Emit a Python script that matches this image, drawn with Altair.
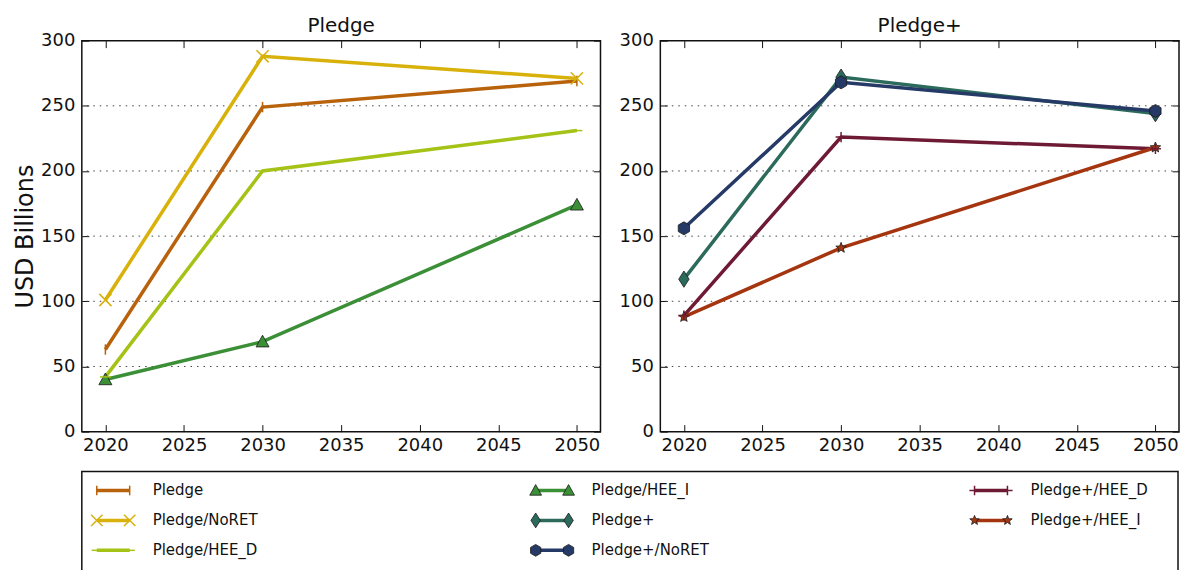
import math
import altair as alt
import pandas as pd

# ---------------- data ----------------
years = [2020, 2030, 2050]
series_names = [
    "Pledge", "Pledge/NoRET", "Pledge/HEE_D", "Pledge/HEE_I",
    "Pledge+", "Pledge+/NoRET", "Pledge+/HEE_D", "Pledge+/HEE_I",
]
series_panel = ["Pledge"] * 4 + ["Pledge+"] * 4
pledge = [63, 249, 269]
pledge_noret = [101, 288, 271]
pledge_hee_d = [42, 200, 231]
pledge_hee_i = [40, 69, 174]
pledgep = [117, 272, 244]
pledgep_noret = [156, 268, 246]
pledgep_hee_d = [89, 226, 217]
pledgep_hee_i = [88, 141, 218]
series_values = [pledge, pledge_noret, pledge_hee_d, pledge_hee_i,
                 pledgep, pledgep_noret, pledgep_hee_d, pledgep_hee_i]
x_ticks = [2020, 2025, 2030, 2035, 2040, 2045, 2050]
y_ticks = [0, 50, 100, 150, 200, 250, 300]
grid_values = [50, 100, 150, 200, 250]

# ---------------- styles ----------------
series_colors = ["#b8620c", "#d8b10a", "#a5c217", "#3b8f36",
                 "#2c6a5c", "#253a66", "#6e1a35", "#a5350f"]


def star_path(outer=0.85, inner=0.36):
    pts = []
    for k in range(10):
        ang = -math.pi / 2 + k * math.pi / 5
        r = outer if k % 2 == 0 else inner
        pts.append(f"{r * math.cos(ang):.3f},{r * math.sin(ang):.3f}")
    return "M" + "L".join(pts) + "Z"


VBAR = "M0,-0.85L0,0.85"
XMARK = "M-1,-1L1,1M-1,1L1,-1"
HBAR = "M-0.9,0L0.9,0"
PLUS = "M-0.9,0L0.9,0M0,-0.85L0,0.85"
TRI = "M0,-1L1,0.8L-1,0.8Z"
DIAM = "M0,-1.25L0.8,0L0,1.25L-0.8,0Z"
HEX = "M0,-1L0.866,-0.5L0.866,0.5L0,1L-0.866,0.5L-0.866,-0.5Z"
STAR = star_path()
series_shapes = [VBAR, XMARK, HBAR, TRI, DIAM, HEX, PLUS, STAR]
series_kind = ["line", "line", "line", "fill", "fill", "fill", "line", "fill"]

rows = []
for name, panel, vals, kind in zip(series_names, series_panel, series_values, series_kind):
    for yr, v in zip(years, vals):
        rows.append({"series": name, "panel": panel, "year": yr, "value": v, "kind": kind})
df = pd.DataFrame(rows)
grid_df = pd.DataFrame({"value": grid_values})

FONT = "DejaVu Sans"
color_scale = alt.Scale(domain=series_names, range=series_colors)
shape_scale = alt.Scale(domain=series_names, range=series_shapes)
xscale = alt.Scale(domain=[2018.5, 2051.5], nice=False, zero=False)
yscale = alt.Scale(domain=[0, 300], nice=False)

W, H = 520, 392
TICK = 7


def panel(name, ytitle):
    d = df[df["panel"] == name]
    base = alt.Chart(d)
    grid = alt.Chart(grid_df).mark_rule(
        strokeDash=[1.5, 5], color="#444", strokeWidth=1).encode(
        y=alt.Y("value:Q", scale=yscale, axis=None))
    x_bottom = alt.X("year:Q", scale=xscale, axis=alt.Axis(
        orient="bottom", values=x_ticks, format="d", offset=-TICK, tickSize=TICK,
        tickColor="#111", tickWidth=1, domain=False, grid=False, labelFontSize=18,
        labelPadding=5, labelColor="#111", title=None, labelFont=FONT))
    y_left = alt.Y("value:Q", scale=yscale, axis=alt.Axis(
        orient="left", values=y_ticks, offset=-TICK, tickSize=TICK, tickColor="#111",
        tickWidth=1, domain=False, grid=False, labelFontSize=18, labelPadding=7,
        labelColor="#111", labelFont=FONT, title=ytitle if ytitle else None,
        titleFontSize=24, titleFontWeight="normal", titleColor="#111",
        titleFont=FONT, titlePadding=3))
    lines = base.mark_line(strokeWidth=3.5).encode(
        x=x_bottom, y=y_left,
        color=alt.Color("series:N", scale=color_scale, legend=None),
        detail="series:N",
    )
    x_top = alt.X("year:Q", scale=xscale, axis=alt.Axis(
        orient="top", values=x_ticks, offset=-TICK, tickSize=TICK, tickColor="#111",
        tickWidth=1, domain=False, grid=False, labels=False, title=None))
    y_right = alt.Y("value:Q", scale=yscale, axis=alt.Axis(
        orient="right", values=y_ticks, offset=-TICK, tickSize=TICK, tickColor="#111",
        tickWidth=1, domain=False, grid=False, labels=False, title=None))
    pts_fill = base.transform_filter(alt.datum.kind == "fill").mark_point(
        filled=True, size=170, stroke="#1a1a1a", strokeWidth=0.8, opacity=1).encode(
        x=x_top, y=y_right,
        color=alt.Color("series:N", scale=color_scale, legend=None),
        shape=alt.Shape("series:N", scale=shape_scale, legend=None),
    )
    pts_line = base.transform_filter(alt.datum.kind == "line").mark_point(
        filled=False, size=150, strokeWidth=1.5, opacity=1).encode(
        x=alt.X("year:Q", scale=xscale, axis=None),
        y=alt.Y("value:Q", scale=yscale, axis=None),
        color=alt.Color("series:N", scale=color_scale, legend=None),
        shape=alt.Shape("series:N", scale=shape_scale, legend=None),
    )
    return alt.layer(grid, lines, pts_fill, pts_line).resolve_axis(
        x="independent", y="independent"
    ).properties(
        width=W, height=H,
        title=alt.Title(name, fontSize=20, fontWeight="normal", font=FONT,
                        color="#111", offset=-4),
    )


left = panel("Pledge", "USD Billions")
right = panel("Pledge+", None)

# ---------------- legend (drawn as its own small chart) ----------------
leg_df = pd.DataFrame({
    "series": series_names,
    "col": [i // 3 for i in range(len(series_names))],
    "row": [i % 3 for i in range(len(series_names))],
    "kind": series_kind,
})
MK_GAP = 33
lx = alt.Scale(domain=[-0.0341, 2.4636], nice=False, zero=False)
ly = alt.Scale(domain=[-0.633, 2.7], nice=False, zero=False, reverse=True)
lbase = alt.Chart(leg_df)
lx_enc = alt.X("col:Q", scale=lx, axis=None)
ly_enc = alt.Y("row:Q", scale=ly, axis=None)
leg_rule = lbase.mark_rule(strokeWidth=3.5, x2Offset=MK_GAP).encode(
    x=lx_enc, x2="col:Q", y=ly_enc,
    color=alt.Color("series:N", scale=color_scale, legend=None),
)
leg_layers = [leg_rule]
for off in (0, MK_GAP):
    leg_layers.append(lbase.transform_filter(alt.datum.kind == "fill").mark_point(
        filled=True, size=140, stroke="#1a1a1a", strokeWidth=0.8, opacity=1, xOffset=off
    ).encode(
        x=lx_enc, y=ly_enc,
        color=alt.Color("series:N", scale=color_scale, legend=None),
        shape=alt.Shape("series:N", scale=shape_scale, legend=None),
    ))
    leg_layers.append(lbase.transform_filter(alt.datum.kind == "line").mark_point(
        filled=False, size=130, strokeWidth=1.5, opacity=1, xOffset=off
    ).encode(
        x=lx_enc, y=ly_enc,
        color=alt.Color("series:N", scale=color_scale, legend=None),
        shape=alt.Shape("series:N", scale=shape_scale, legend=None),
    ))
leg_text = lbase.mark_text(align="left", baseline="middle", dx=56, fontSize=15,
                           font=FONT, color="#111").encode(
    text="series:N", x=lx_enc, y=ly_enc)
leg_layers.append(leg_text)
legend = alt.layer(*leg_layers).properties(width=1099, height=100)

top = alt.hconcat(left, right, spacing=60, bounds="flush")
chart = alt.vconcat(top, legend, spacing=15).properties(
    padding={"left": 4, "top": 6, "right": 0, "bottom": 0}
).configure(
    font=FONT,
    view=alt.ViewConfig(stroke="#111", strokeWidth=1.5),
)

chart.save("out.html", embed_options={"renderer": "svg", "actions": False})
